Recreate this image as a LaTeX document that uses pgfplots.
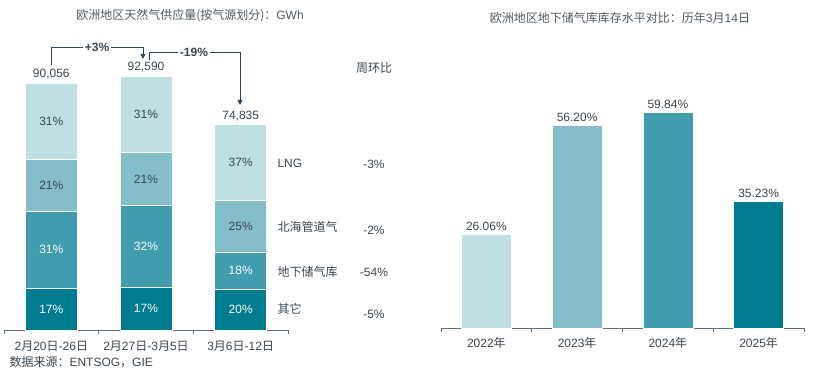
\documentclass[border=0pt]{standalone}
\usepackage{fontspec}
\setmainfont{Liberation Sans}
\newfontfamily\cjk{Noto Sans CJK SC}
\usepackage{pgfplots}
\usepackage{pgfplotstable}
\pgfplotsset{compat=1.18}
\usetikzlibrary{arrows.meta}
\definecolor{cA}{HTML}{BFDFE3}
\definecolor{cB}{HTML}{84BFC9}
\definecolor{cC}{HTML}{419CAE}
\definecolor{cD}{HTML}{007B8F}
\definecolor{txt}{HTML}{3B4650}
\definecolor{ttl}{HTML}{505A62}
\definecolor{axc}{HTML}{5B6E7A}
\definecolor{arc}{HTML}{2E4753}
\newcommand{\zh}[1]{{\cjk #1}}
\newcommand{\myfs}{\fontsize{12bp}{14bp}\selectfont}

% supply by source (GWh) = total x share
\pgfplotstableread{
x other storage north lng
0 15310 27917 18912 27917
1 15740 29629 19444 27777
2 14967 13470 18709 27689
}\supplytab

\begin{document}
\begin{tikzpicture}
\path[use as bounding box] (0bp,0bp) rectangle (832bp,378bp);

% ---------------- left chart ----------------
\begin{axis}[
  at={(4bp,48bp)}, anchor=south west, scale only axis,
  width=284bp, height=274.3bp,
  ybar stacked, bar width=52bp,
  xmin=-0.5, xmax=2.5, ymin=0, ymax=100000,
  axis x line*=bottom, axis y line*=left,
  y axis line style={draw=none}, ytick=\empty,
  x axis line style={axc, line width=0.8bp},
  xtick={-0.5,0.5,1.5,2.5}, xticklabels={},
  xtick align=outside, major tick length=3.5bp,
  xtick style={axc, line width=0.8bp},
  extra x ticks={0,1,2},
  extra x tick labels={2\zh{月}20\zh{日}-26\zh{日}, 2\zh{月}27\zh{日}-3\zh{月}5\zh{日}, 3\zh{月}6\zh{日}-12\zh{日}},
  extra x tick style={major tick length=0pt, tick label style={yshift=-8bp}},
  tick label style={font=\myfs, text=txt},
  every axis plot/.append style={draw=white, line width=0.6bp},
  clip=false,
]
\addplot[fill=cD] table[x=x, y=other] {\supplytab};
\addplot[fill=cC] table[x=x, y=storage] {\supplytab};
\addplot[fill=cB] table[x=x, y=north] {\supplytab};
\addplot[fill=cA] table[x=x, y=lng] {\supplytab};
\end{axis}

% ---------------- right chart ----------------
\begin{axis}[
  at={(441bp,50bp)}, anchor=south west, scale only axis,
  width=363bp, height=252bp,
  ybar, bar width=50bp, bar shift=0pt,
  xmin=-0.5, xmax=3.5, ymin=0, ymax=70,
  axis x line*=bottom, axis y line*=left,
  y axis line style={draw=none}, ytick=\empty,
  x axis line style={axc, line width=0.8bp},
  xtick={-0.5,0.5,1.5,2.5,3.5}, xticklabels={},
  xtick align=outside, major tick length=3.5bp,
  xtick style={axc, line width=0.8bp},
  extra x ticks={0,1,2,3},
  extra x tick labels={2022\zh{年},2023\zh{年},2024\zh{年},2025\zh{年}},
  extra x tick style={major tick length=0pt, tick label style={yshift=-6bp}},
  tick label style={font=\myfs, text=txt},
  every axis plot/.append style={draw=white, line width=0.6bp},
  nodes near coords={\pgfmathprintnumber[fixed,fixed zerofill,precision=2,assume math mode=true]{\pgfplotspointmeta}\%},
  every node near coord/.append style={font=\myfs, text=txt, anchor=south},
  clip=false,
]
\addplot[fill=cA] coordinates {(0,26.06)};
\addplot[fill=cB] coordinates {(1,56.20)};
\addplot[fill=cC] coordinates {(2,59.84)};
\addplot[fill=cD] coordinates {(3,35.23)};
\end{axis}

% ---------------- annotations ----------------
\begin{scope}[x=1bp, y=1bp]
% segment shares
\node[font=\myfs, text=white] at (51.3,69.0) {17\%};
\node[font=\myfs, text=white] at (51.3,128.3) {31\%};
\node[font=\myfs, text=txt] at (51.3,192.5) {21\%};
\node[font=\myfs, text=txt] at (51.3,256.7) {31\%};
\node[font=\myfs, text=white] at (146,69.6) {17\%};
\node[font=\myfs, text=white] at (146,131.8) {32\%};
\node[font=\myfs, text=txt] at (146,199.1) {21\%};
\node[font=\myfs, text=txt] at (146,263.9) {31\%};
\node[font=\myfs, text=white] at (240.7,68.5) {20\%};
\node[font=\myfs, text=white] at (240.7,107.5) {18\%};
\node[font=\myfs, text=txt] at (240.7,151.7) {25\%};
\node[font=\myfs, text=txt] at (240.7,215.3) {37\%};
% totals
\node[font=\myfs, text=txt] at (51.3,304) {90,056};
\node[font=\myfs, text=txt] at (146,311) {92,590};
\node[font=\myfs, text=txt] at (240.7,262) {74,835};

\node[font=\myfs, text=ttl] at (190,362) {\zh{欧洲地区天然气供应量(按气源划分)：}GWh};
\node[font=\myfs, text=ttl] at (620,360) {\zh{欧洲地区地下储气库库存水平对比：历年}3\zh{月}14\zh{日}};

\draw[arc, line width=0.9bp, -{Triangle[length=5bp,width=5bp]}]
  (51,313) -- (51,331) -- (143,331) -- (143,319);
\node[font=\myfs, fill=white, inner sep=1.5bp, text=txt] at (97,331) {\textbf{+3\%}};
\draw[arc, line width=0.9bp, -{Triangle[length=5bp,width=5bp]}]
  (149,318) -- (149,326) -- (240,326) -- (240,273);
\node[font=\myfs, fill=white, inner sep=1.5bp, text=txt] at (194,326) {\textbf{-19\%}};

\node[font=\myfs, text=txt, anchor=west] at (274,215) {LNG};
\node[font=\myfs, text=txt, anchor=west] at (274,151) {\zh{北海管道气}};
\node[font=\myfs, text=txt, anchor=west] at (274,106) {\zh{地下储气库}};
\node[font=\myfs, text=txt, anchor=west] at (274,69) {\zh{其它}};

\node[font=\myfs, text=txt] at (374,310) {\zh{周环比}};
\node[font=\myfs, text=txt] at (374,214) {-3\%};
\node[font=\myfs, text=txt] at (374,148) {-2\%};
\node[font=\myfs, text=txt] at (374,106) {-54\%};
\node[font=\myfs, text=txt] at (374,64) {-5\%};

\node[font=\myfs, text=txt, anchor=west] at (6,16) {\zh{数据来源：}ENTSOG\zh{，}GIE};
\end{scope}
\end{tikzpicture}
\end{document}
